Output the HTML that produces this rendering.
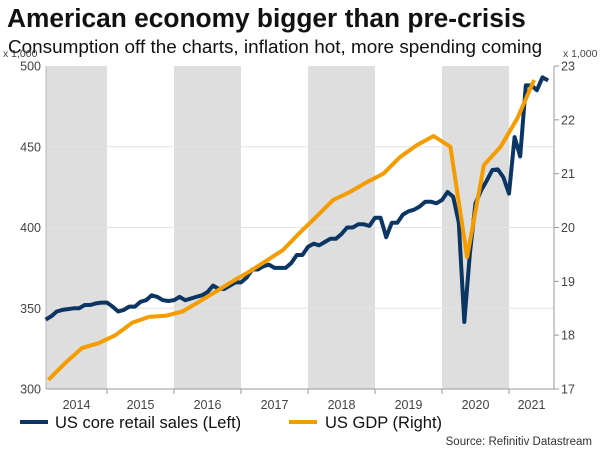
<!DOCTYPE html>
<html><head><meta charset="utf-8"><style>
body{margin:0;background:#fff;font-family:"Liberation Sans",sans-serif;}
#wrap{position:relative;width:600px;height:450px;overflow:hidden;}
.t{position:absolute;white-space:nowrap;}
</style></head><body>
<div id="wrap">
<div class="t" style="left:7px;top:3px;font-size:26.3px;font-weight:bold;color:#111;">American economy bigger than pre-crisis</div>
<div class="t" style="left:8px;top:37px;font-size:18.9px;color:#111;">Consumption off the charts, inflation hot, more spending coming</div>
<svg id="chart" width="600" height="450" style="position:absolute;left:0;top:0"></svg>
</div>
<script>
const years=['2014','2015','2016','2017','2018','2019','2020','2021'];
const leftTicks=[300,350,400,450,500];
const rightTicks=[17,18,19,20,21,22,23];
const retail=[343,345,348,349,349.5,350,350,352,352,353,353.5,353.5,
351,348,349,351,351,354,355,358,357,355,354.5,355,
357,355,356,357,358,360,364,362,362,364,366,366,
369,374,374,376,377,375,375,375,378,383,383,388,
390,389,391,393,393,396,400,400,402,402,401,406,
406,394,403,403,408,410,411,413,416,416,415,417,
422,419,403,341.5,384,415,423,429,435.6,436,431,421,
456,444,488,488,485,493,491];
const gdp=[17.17,17.48,17.76,17.85,18.0,18.23,18.34,18.36,18.44,18.62,18.81,19.0,19.18,19.38,19.58,19.9,
20.2,20.51,20.66,20.84,21.0,21.31,21.53,21.7,21.5,19.45,21.16,21.5,22.03,22.74];
const svg=document.getElementById('chart');const NS='http://www.w3.org/2000/svg';
const X0=46,X1=554,Y0=66,Y1=389,YW=67,XJAN14=40;
const xm=m=>XJAN14+YW*m/12;
const yl=v=>Y1-(v-300)/200*(Y1-Y0);
const yr=v=>Y1-(v-17)/6*(Y1-Y0);
function mk(t,a,p){const e=document.createElementNS(NS,t);for(const k in a)e.setAttribute(k,a[k]);(p||svg).appendChild(e);return e;}
years.forEach((y,i)=>{if(i%2===0){const a=Math.max(X0,xm(i*12)),b=xm(i*12+12);
const r=mk('rect',{x:a,y:Y0,width:b-a,height:Y1-Y0,fill:'#dedede'});

}});
leftTicks.forEach(v=>{const y=yl(v);
if(v>300&&v<500){const g=mk('line',{x1:X0,x2:X1,y1:y,y2:y,stroke:'#e4e4e4','stroke-width':1});

}
const t=mk('text',{x:41,y:y+4.5,'text-anchor':'end','font-size':12.5,fill:'#444'});t.textContent=v;

});
rightTicks.forEach(v=>{const y=yr(v);
mk('line',{x1:X1,x2:X1+5,y1:y,y2:y,stroke:'#999'});
const t=mk('text',{x:561,y:y+4.5,'font-size':12.5,fill:'#444'});t.textContent=v;

});
[['x 1,000',3,57,'left-axis-unit'],['x 1,000',563,57,'right-axis-unit']].forEach(a=>{const t=mk('text',{x:a[1],y:a[2],'font-size':10.5,fill:'#444'});t.textContent=a[0];

});
mk('line',{x1:X0,x2:X0,y1:Y0,y2:Y1,stroke:'#bbb'});
mk('line',{x1:X1,x2:X1,y1:Y0,y2:Y1,stroke:'#999'});
mk('line',{x1:X0,x2:X1,y1:Y1,y2:Y1,stroke:'#999'});
years.forEach((y,i)=>{const b=xm(i*12+12);if(b<X1)mk('line',{x1:b,x2:b,y1:Y1,y2:Y1+5,stroke:'#999'});
const c=(Math.max(X0,xm(i*12))+Math.min(X1,b))/2;
const t=mk('text',{x:c,y:409,'text-anchor':'middle','font-size':12.5,fill:'#444'});t.textContent=y;

});
const rp=retail.map((v,i)=>xm(i+1).toFixed(1)+','+yl(v).toFixed(1)).join(' ');
const gp=gdp.map((v,i)=>xm(i*3+1.5).toFixed(1)+','+yr(v).toFixed(1)).join(' ');
const l1=mk('polyline',{points:rp,fill:'none',stroke:'#0b3563','stroke-width':4,'stroke-linejoin':'round'});


const l2=mk('polyline',{points:gp,fill:'none',stroke:'#f59c00','stroke-width':4,'stroke-linejoin':'round'});


mk('line',{x1:20,x2:48,y1:422,y2:422,stroke:'#0b3563','stroke-width':4});
let t=mk('text',{x:55,y:428,'font-size':16.5,fill:'#111'});t.textContent='US core retail sales (Left)';


mk('line',{x1:289,x2:317,y1:422,y2:422,stroke:'#f59c00','stroke-width':4});
t=mk('text',{x:325,y:428,'font-size':16.5,fill:'#111'});t.textContent='US GDP (Right)';


t=mk('text',{x:592,y:445,'text-anchor':'end','font-size':11.5,fill:'#333'});t.textContent='Source: Refinitiv Datastream';


</script>
</body></html>
